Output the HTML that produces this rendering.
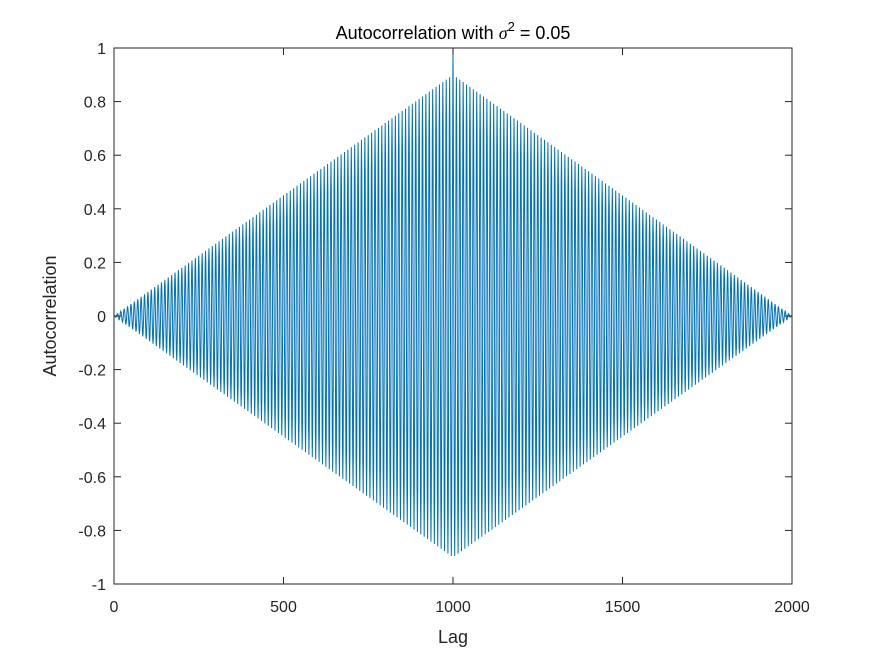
<!DOCTYPE html>
<html><head><meta charset="utf-8"><style>
body{margin:0;background:#fff;}
svg{display:block;font-family:"Liberation Sans",Arial,sans-serif;}
</style></head><body>
<svg id="c" width="875" height="656">
<rect x="0" y="0" width="875" height="656" fill="#fff"/>
<rect x="114" y="48" width="678" height="536" fill="#fff"/>
<g id="series"></g>
<g id="axes"></g>
<text x="453" y="39" text-anchor="middle" font-size="18" fill="#000">Autocorrelation with <tspan font-family="Liberation Serif" font-style="italic">σ</tspan><tspan dy="-8" font-size="13">2</tspan><tspan dy="8"> = 0.05</tspan></text>
<text x="453" y="643" text-anchor="middle" font-size="18" fill="#262626">Lag</text>
<text transform="translate(56,316) rotate(-90)" text-anchor="middle" font-size="18" fill="#262626">Autocorrelation</text>
</svg>
<script>
// data description
const lagCount = [2001];
const centerLag = [1000];
const oscillationPeriod = [10];
const sidePeakAmplitude = [0.9];
const zeroLagValue = [1];
const xTicks = [0, 500, 1000, 1500, 2000];
const yTicks = [-1, -0.8, -0.6, -0.4, -0.2, 0, 0.2, 0.4, 0.6, 0.8, 1];
const xTickLabels = ["0", "500", "1000", "1500", "2000"];
const yTickLabels = ["-1", "-0.8", "-0.6", "-0.4", "-0.2", "0", "0.2", "0.4", "0.6", "0.8", "1"];

const L = 114, R = 792, T = 48, B = 584;
const xs = v => L + (v - 0) / (2000 - 0) * (R - L);
const ys = v => B - (v + 1) / 2 * (B - T);
const NS = "http://www.w3.org/2000/svg";

const values = [];
for (let k = 0; k < lagCount[0]; k++) {
  const m = k - centerLag[0];
  values.push(m === 0 ? zeroLagValue[0] :
    (1 - Math.abs(m) / centerLag[0]) * sidePeakAmplitude[0] * Math.cos(2 * Math.PI * m / oscillationPeriod[0]));
}
const series = document.getElementById('series');
const pl = document.createElementNS(NS, 'polyline');


pl.setAttribute('points', values.map((v, i) => xs(i).toFixed(2) + ',' + ys(v).toFixed(2)).join(' '));
pl.setAttribute('fill', 'none');
pl.setAttribute('stroke', '#0072BD');
pl.setAttribute('stroke-width', '1');
series.appendChild(pl);

const axes = document.getElementById('axes');
const box = document.createElementNS(NS, 'rect');


box.setAttribute('x', L); box.setAttribute('y', T);
box.setAttribute('width', R - L); box.setAttribute('height', B - T);
box.setAttribute('fill', 'none'); box.setAttribute('stroke', '#262626'); box.setAttribute('stroke-width', '1');
axes.appendChild(box);

xTicks.forEach((t, i) => {
  const x = xs(t);
  [[B, B - 7], [T, T + 7]].forEach(([a, b]) => {
    const ln = document.createElementNS(NS, 'line');
    
    
    ln.setAttribute('x1', x); ln.setAttribute('x2', x); ln.setAttribute('y1', a); ln.setAttribute('y2', b);
    ln.setAttribute('stroke', '#262626');
    axes.appendChild(ln);
  });
  const tx = document.createElementNS(NS, 'text');
  
  
  tx.setAttribute('x', x); tx.setAttribute('y', 612);
  tx.setAttribute('text-anchor', 'middle'); tx.setAttribute('font-size', '16'); tx.setAttribute('fill', '#262626');
  tx.textContent = xTickLabels[i];
  axes.appendChild(tx);
});
yTicks.forEach((t, i) => {
  const y = ys(t);
  [[L, L + 7], [R, R - 7]].forEach(([a, b]) => {
    const ln = document.createElementNS(NS, 'line');
    
    
    ln.setAttribute('x1', a); ln.setAttribute('x2', b); ln.setAttribute('y1', y); ln.setAttribute('y2', y);
    ln.setAttribute('stroke', '#262626');
    axes.appendChild(ln);
  });
  const tx = document.createElementNS(NS, 'text');
  
  
  tx.setAttribute('x', 106); tx.setAttribute('y', y + 6);
  tx.setAttribute('text-anchor', 'end'); tx.setAttribute('font-size', '16'); tx.setAttribute('fill', '#262626');
  tx.textContent = yTickLabels[i];
  axes.appendChild(tx);
});
</script>
</body></html>
